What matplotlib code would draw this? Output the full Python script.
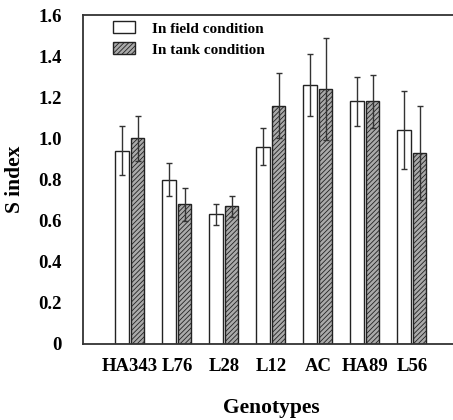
import matplotlib
matplotlib.use("Agg")
import matplotlib.pyplot as plt
import numpy as np

plt.rcParams['font.family'] = ['Liberation Serif', 'DejaVu Serif']
plt.rcParams['font.weight'] = 'bold'
plt.rcParams['hatch.linewidth'] = 0.6

genotypes = ["HA343", "L76", "L28", "L12", "AC", "HA89", "L56"]
field_vals = [0.94, 0.80, 0.63, 0.96, 1.26, 1.18, 1.04]
field_err = [0.12, 0.08, 0.05, 0.09, 0.15, 0.12, 0.19]
tank_vals = [1.00, 0.68, 0.67, 1.16, 1.24, 1.18, 0.93]
tank_err = [0.11, 0.08, 0.05, 0.16, 0.25, 0.13, 0.23]
yticks = [0, 0.2, 0.4, 0.6, 0.8, 1.0, 1.2, 1.4, 1.6]
ytick_labels = ["0", "0.2", "0.4", "0.6", "0.8", "1.0", "1.2", "1.4", "1.6"]

fig = plt.figure(figsize=(4.53, 4.20), dpi=100)
ax = fig.add_axes([0.183, 0.181, 0.83, 0.783])

x = np.arange(len(genotypes))
w = 0.29
off = 0.165
ax.bar(x - off, field_vals, w, yerr=field_err, color="white", edgecolor="#222222",
       linewidth=1.0, error_kw=dict(ecolor="#333333", elinewidth=1.0, capsize=2.5, capthick=1.0),
       label="In field condition")
ax.bar(x + off, tank_vals, w, yerr=tank_err, color="#aaaaaa", edgecolor="#222222",
       hatch="///////", linewidth=1.0,
       error_kw=dict(ecolor="#333333", elinewidth=1.0, capsize=2.5, capthick=1.0),
       label="In tank condition")

ax.set_xlim(-1.0, 7.0)
ax.set_ylim(0, 1.6)
ax.set_yticks(yticks)
ax.set_yticklabels(ytick_labels)
ax.set_xticks(x)
ax.set_xticklabels(genotypes)
ax.tick_params(axis='both', length=0, labelsize=13.5)
ax.tick_params(axis='y', pad=15)
ax.tick_params(axis='x', pad=10)
for lab in ax.get_xticklabels() + ax.get_yticklabels():
    lab.set_fontweight('bold')

for s in ['left', 'bottom', 'top']:
    ax.spines[s].set_linewidth(1.3)
    ax.spines[s].set_color("#333333")
ax.spines['right'].set_visible(False)

ax.set_ylabel("S index", fontsize=15.5, fontweight='bold', labelpad=10)
ax.set_xlabel("Genotypes", fontsize=15.5, fontweight='bold', labelpad=17)

leg = ax.legend(loc='upper left', bbox_to_anchor=(0.08, 0.981), frameon=False,
                fontsize=11, handlelength=1.45, handleheight=0.8, handletextpad=1.1,
                labelspacing=0.45, borderpad=0, borderaxespad=0)
for t in leg.get_texts():
    t.set_fontweight('bold')

fig.savefig("out.png", dpi=100)
